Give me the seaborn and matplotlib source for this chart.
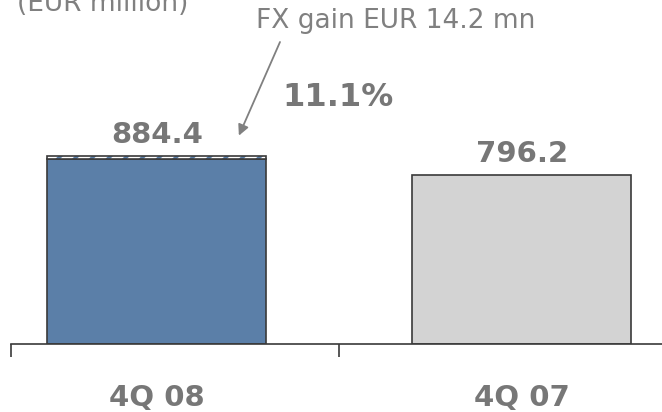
"""
Receita trimestral: 4Q 08 vs 4Q 07, com o ganho cambial destacado em hachurado.
"""

import matplotlib

matplotlib.use("Agg")
import matplotlib.pyplot as plt
import seaborn as sns

QUARTERS = ["4Q 08", "4Q 07"]
TOTALS = [884.4, 796.2]
FX_GAIN = [14.2, 0.0]
GROWTH_LABEL = "11.1%"
FX_LABEL = "FX gain EUR 14.2 mn"
UNIT_LABEL = "(EUR million)"

BLUE = "#5B7FA8"
GRAY_BAR = "#D3D3D3"
EDGE = "#3a3a3a"
TEXT = "#777777"

sns.set_style("white")
plt.rcParams["font.family"] = ["DejaVu Sans"]
plt.rcParams["hatch.linewidth"] = 2.5

base = [t - f for t, f in zip(TOTALS, FX_GAIN)]

W, H = 662, 412
fig = plt.figure(figsize=(W / 100, H / 100), dpi=100)
ax = fig.add_axes([11 / W, (H - 344) / H, 1 - 11 / W, 344 / H])

sns.barplot(
    x=QUARTERS, y=base, hue=QUARTERS, palette=[BLUE, GRAY_BAR],
    saturation=1, width=0.6, edgecolor=EDGE, linewidth=1.2,
    legend=False, ax=ax,
)

# parte do ganho cambial (hachurada) em cima da barra
for i, fx in enumerate(FX_GAIN):
    if fx > 0:
        ax.bar(i, fx, bottom=base[i], width=0.6, color="white",
               edgecolor=BLUE, hatch="//", linewidth=0)
        ax.bar(i, fx, bottom=base[i], width=0.6, fill=False,
               edgecolor=EDGE, linewidth=1.2)

for i, total in enumerate(TOTALS):
    ax.annotate(f"{total:.1f}", (i, total), xytext=(0, 9),
                textcoords="offset points", ha="center", va="baseline",
                fontsize=21, fontweight="bold", color=TEXT)

ax.set_xlim(-0.4, 1.384)
ax.set_ylim(0, 1618)

for side in ["left", "right", "top"]:
    ax.spines[side].set_visible(False)
ax.spines["bottom"].set_color(EDGE)
ax.spines["bottom"].set_linewidth(1.2)

ax.set_yticks([])
ax.set_xticks([0, 1])
ax.set_xticklabels(QUARTERS, fontsize=21, fontweight="bold", color=TEXT)
ax.set_xticks([-0.4, 0.5], minor=True)
ax.tick_params(axis="x", which="major", length=0, pad=29)
ax.tick_params(axis="x", which="minor", length=9, width=1.2, color=EDGE,
               direction="out", bottom=True)
ax.set_xlabel("")
ax.set_ylabel("")

fig.text(17 / W, (H - 11) / H, UNIT_LABEL, ha="left", va="baseline",
         fontsize=19, color="#808080")
fig.text(396 / W, (H - 28) / H, FX_LABEL, ha="center", va="baseline",
         fontsize=19, color="#808080")
fig.text(338 / W, (H - 98) / H, GROWTH_LABEL, ha="center", va="center",
         fontsize=23, fontweight="bold", color=TEXT)

ax.annotate("", xy=(0.2, TOTALS[0]), xycoords="data",
            xytext=(280, H - 42), textcoords="figure pixels",
            arrowprops=dict(arrowstyle="-|>", color="#808080", lw=1.3,
                            shrinkA=0, shrinkB=16, mutation_scale=16))

fig.savefig("out.png", dpi=100)
